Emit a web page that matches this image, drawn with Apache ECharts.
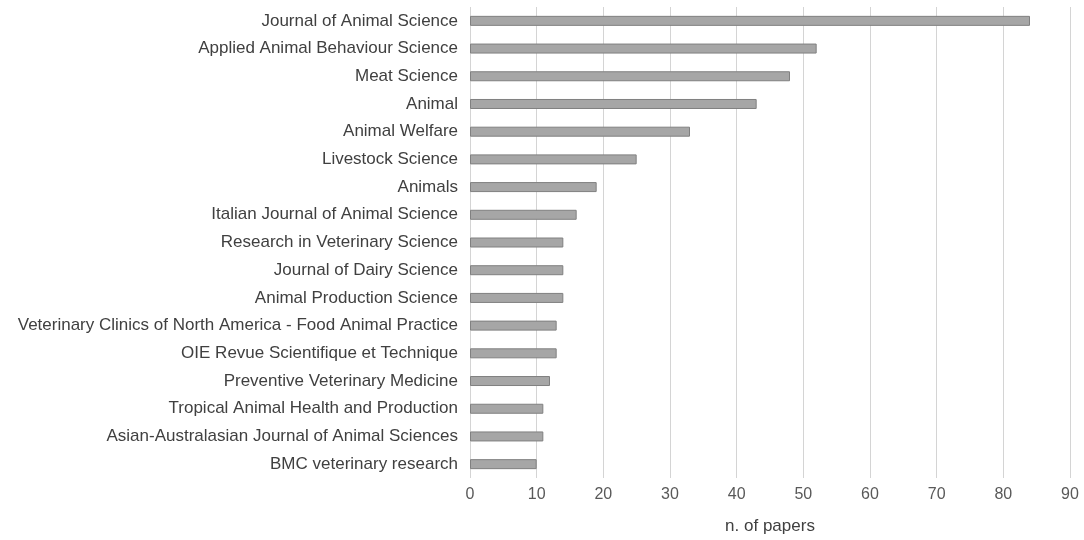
<!DOCTYPE html>
<html>
<head>
<meta charset="utf-8">
<script src="https://cdn.jsdelivr.net/npm/echarts@6/dist/echarts.min.js"></script>
<style>
  html, body { margin: 0; padding: 0; background: #fff; }
  #chart { width: 1084px; height: 540px; }
</style>
</head>
<body>
<div id="chart"></div>
<script>
// journals, top to bottom
var journals = [
  'Journal of Animal Science',
  'Applied Animal Behaviour Science',
  'Meat Science',
  'Animal',
  'Animal Welfare',
  'Livestock Science',
  'Animals',
  'Italian Journal of Animal Science',
  'Research in Veterinary Science',
  'Journal of Dairy Science',
  'Animal Production Science',
  'Veterinary Clinics of North America - Food Animal Practice',
  'OIE Revue Scientifique et Technique',
  'Preventive Veterinary Medicine',
  'Tropical Animal Health and Production',
  'Asian-Australasian Journal of Animal Sciences',
  'BMC veterinary research'
];
var papers = [84, 52, 48, 43, 33, 25, 19, 16, 14, 14, 14, 13, 13, 12, 11, 11, 10];
var xTicks = [0, 10, 20, 30, 40, 50, 60, 70, 80, 90];

var chart = echarts.init(document.getElementById('chart'));

var option = {
  animation: false,
  grid: { left: 470, right: 14, top: 7, bottom: 61 },
  xAxis: {
    type: 'value',
    min: xTicks[0],
    max: xTicks[xTicks.length - 1],
    interval: 10,
    name: 'n. of papers',
    nameLocation: 'middle',
    nameGap: 40,
    nameTextStyle: { color: '#404040', fontSize: 17, fontFamily: 'Liberation Sans' },
    axisLine: { show: false },
    axisTick: { show: false },
    axisLabel: { color: '#595959', fontSize: 16, fontFamily: 'Liberation Sans', margin: 9 },
    splitLine: { show: true, lineStyle: { color: '#d4d4d4', width: 1 } }
  },
  yAxis: {
    type: 'category',
    data: journals,
    inverse: true,
    axisLine: { show: false },
    axisTick: { show: false },
    axisLabel: { color: '#404040', fontSize: 17, fontFamily: 'Liberation Sans', margin: 12 }
  },
  series: [{
    type: 'bar',
    data: papers,
    barWidth: 10,
    itemStyle: { color: '#a6a6a6', borderColor: '#808080', borderWidth: 1 }
  }]
};

chart.setOption(option);
</script>
</body>
</html>
